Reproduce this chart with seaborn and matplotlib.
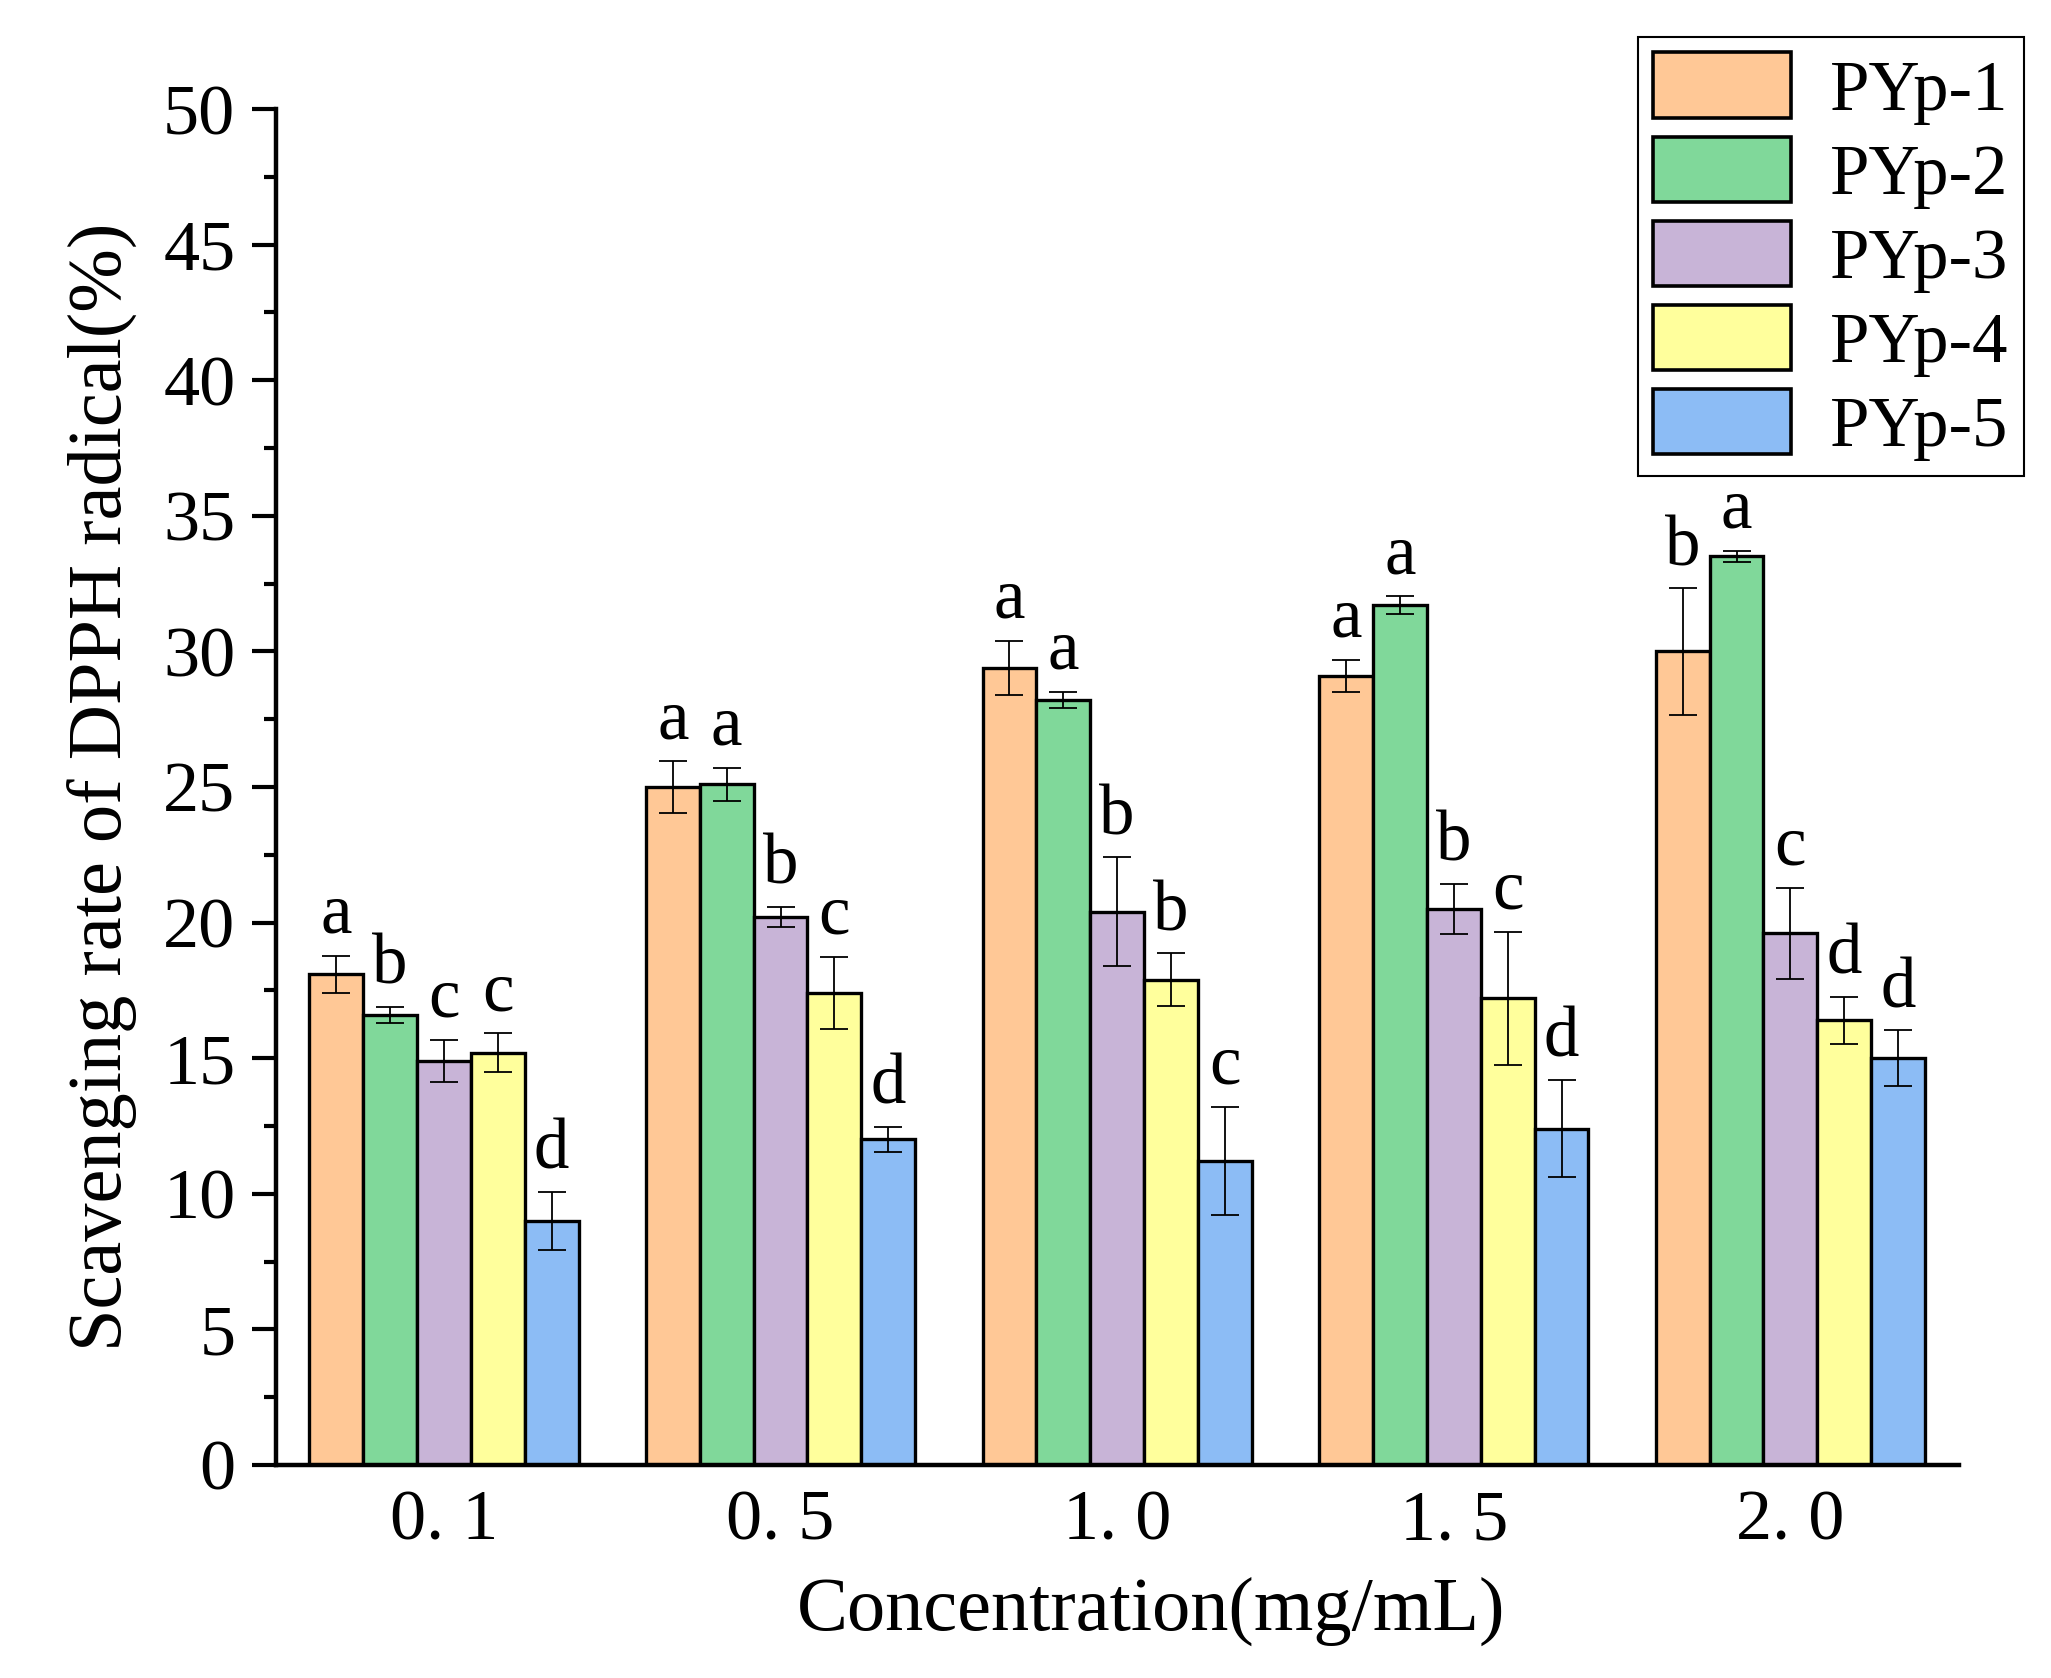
import numpy as np
import pandas as pd
import seaborn as sns
import matplotlib.pyplot as plt
from matplotlib.patches import Patch
from matplotlib.ticker import MultipleLocator

conc = ['0. 1', '0. 5', '1. 0', '1. 5', '2. 0']
samples = ['PYp-1', 'PYp-2', 'PYp-3', 'PYp-4', 'PYp-5']

pyp1 = [18.1, 25.0, 29.4, 29.1, 30.0]
pyp2 = [16.6, 25.1, 28.2, 31.7, 33.5]
pyp3 = [14.9, 20.2, 20.4, 20.5, 19.6]
pyp4 = [15.2, 17.4, 17.9, 17.2, 16.4]
pyp5 = [9.0, 12.0, 11.2, 12.4, 15.0]

sd1 = [0.68, 0.95, 1.0, 0.6, 2.33]
sd2 = [0.29, 0.61, 0.3, 0.33, 0.2]
sd3 = [0.78, 0.37, 2.0, 0.93, 1.67]
sd4 = [0.71, 1.33, 0.96, 2.45, 0.87]
sd5 = [1.08, 0.47, 2.0, 1.8, 1.03]

let1 = ['a', 'a', 'a', 'a', 'b']
let2 = ['b', 'a', 'a', 'a', 'a']
let3 = ['c', 'b', 'b', 'b', 'c']
let4 = ['c', 'c', 'b', 'c', 'd']
let5 = ['d', 'd', 'c', 'd', 'd']

colors = ['#FFC896', '#80D89A', '#C8B4D7', '#FFFF9C', '#8CBCF5']

vals = [pyp1, pyp2, pyp3, pyp4, pyp5]
sds = [sd1, sd2, sd3, sd4, sd5]
lets = [let1, let2, let3, let4, let5]

df = pd.DataFrame({
    'conc': [c for s in samples for c in conc],
    'sample': [s for s in samples for c in conc],
    'rate': [v for row in vals for v in row],
})

sns.set_style('ticks')
plt.rcParams['font.family'] = ['Liberation Serif', 'DejaVu Serif']
plt.rcParams['text.color'] = 'black'
plt.rcParams['axes.labelcolor'] = 'black'
plt.rcParams['axes.edgecolor'] = 'black'
plt.rcParams['xtick.color'] = 'black'
plt.rcParams['ytick.color'] = 'black'

fig = plt.figure(figsize=(20.51, 16.78), dpi=100)
ax = fig.add_axes([0.1344, 0.127, 0.8206, 0.808])

sns.barplot(data=df, x='conc', y='rate', hue='sample', order=conc,
            hue_order=samples, palette=colors, errorbar=None, width=0.8,
            edgecolor='black', linewidth=2.4, saturation=1, legend=False, ax=ax)

bar_conts = list(ax.containers)
for i, cont in enumerate(bar_conts):
    for j, bar in enumerate(cont):
        xc = bar.get_x() + bar.get_width() / 2
        h = bar.get_height()
        ax.errorbar(xc, h, yerr=sds[i][j], fmt='none', ecolor='black',
                    elinewidth=1.3, capsize=10, capthick=1.3, zorder=5)
        ax.text(xc, h + sds[i][j] + 0.3, lets[i][j], ha='center', va='bottom',
                fontsize=51)

ax.set_xlim(-0.5, 4.5)
ax.set_ylim(0, 50)
ax.yaxis.set_major_locator(MultipleLocator(5))
ax.yaxis.set_minor_locator(MultipleLocator(2.5))
ax.tick_params(axis='y', which='major', length=17, width=3, labelsize=52, pad=12)
ax.tick_params(axis='y', which='minor', length=9, width=3)
ax.tick_params(axis='x', length=0, labelsize=52, pad=18)
for side in ['top', 'right']:
    ax.spines[side].set_visible(False)
for side in ['left', 'bottom']:
    ax.spines[side].set_linewidth(3.2)

ax.set_xlabel('Concentration(mg/mL)', fontsize=55, labelpad=16)
ax.xaxis.label.set_x(0.52)
ax.set_ylabel('Scavenging rate of DPPH radical(%)', fontsize=55, labelpad=18)

handles = [Patch(facecolor=c, edgecolor='black', linewidth=2.6) for c in colors]
leg = ax.legend(handles, samples, loc='upper right', bbox_to_anchor=(0.987, 0.978),
                bbox_transform=fig.transFigure, fontsize=51, frameon=True,
                fancybox=False, edgecolor='black', framealpha=1,
                handlelength=1.95, handleheight=1.05, labelspacing=0.17,
                handletextpad=0.55, borderpad=0.22, borderaxespad=0)
leg.get_frame().set_linewidth(1.5)

fig.savefig('out.png', dpi=100)
